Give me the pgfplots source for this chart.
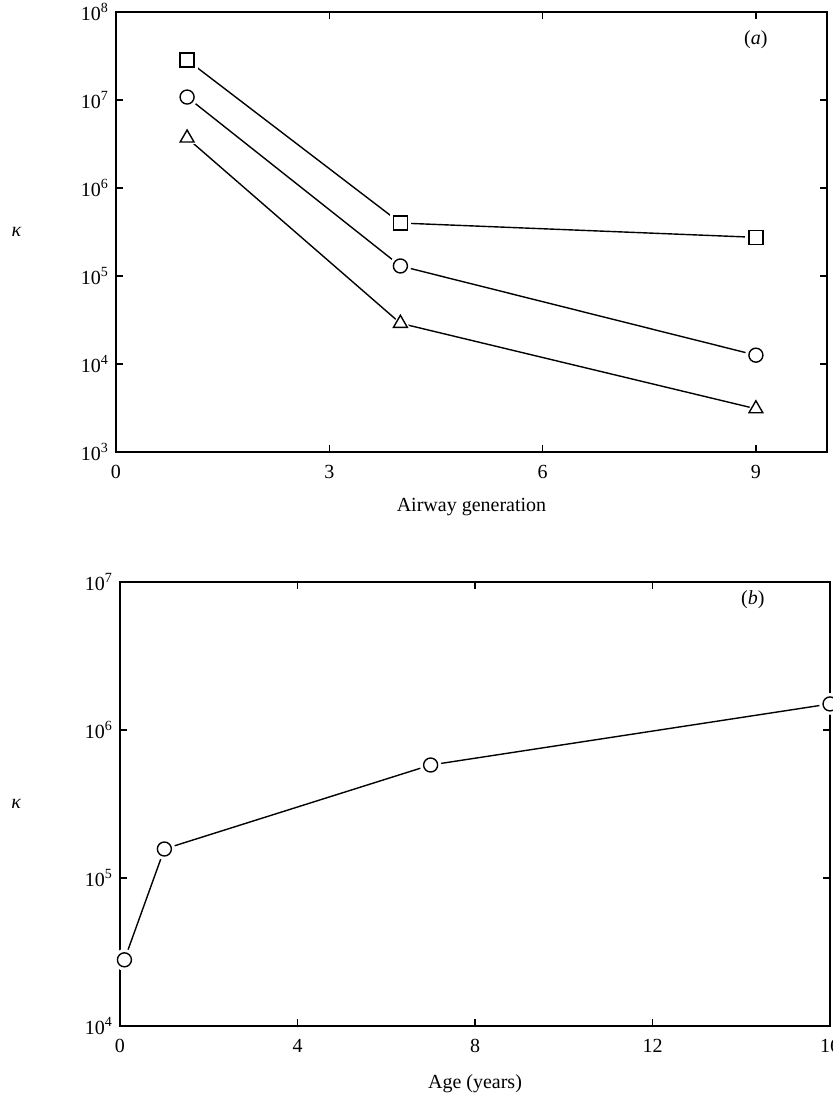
\documentclass[border=0pt]{standalone}
\usepackage{fontspec}
\setmainfont{Liberation Serif}
\usepackage{pgfplots}
\pgfplotsset{compat=1.18}

\pgfplotstableread{
x y
1 2.85e7
4 4.0e5
9 2.75e5
}\sqdata
\pgfplotstableread{
x y
1 1.08e7
4 1.3e5
9 1.26e4
}\circdata
\pgfplotstableread{
x y
1 3.7e6
4 2.9e4
9 3.1e3
}\tridata
\pgfplotstableread{
x y
0.1 2.8e4
1 1.57e5
7 5.8e5
16 1.5e6
}\agedata

\begin{document}
\begin{tikzpicture}
\begin{axis}[
  scale only axis,
  ymode=log,
  clip=false,
  axis line style={line width=0.9pt},
  tick style={line width=0.7pt, black},
  major tick length=3.5pt,
  tick align=inside,
  yminorticks=false,
  font=\fontsize{10}{12}\selectfont,
  /pgf/number format/assume math mode=true,
  xticklabel style={yshift=-3pt},
  at={(0pt,0pt)}, anchor=south west,
  width=355.5pt, height=220pt,
  xmin=0, xmax=10, xtick={0,3,6,9},
  ymin=1e3, ymax=1e8,
  ytick={1e3,1e4,1e5,1e6,1e7,1e8},
  yticklabels={10\textsuperscript{3},10\textsuperscript{4},10\textsuperscript{5},10\textsuperscript{6},10\textsuperscript{7},10\textsuperscript{8}},
  xlabel={Airway generation},
  xlabel style={at={(axis description cs:0.5,-0.125)}, anchor=center},
  ylabel={\textit{κ}},
  ylabel style={rotate=-90, at={(axis description cs:-0.14,0.5)}, anchor=center},
]
\addplot[black, line width=0.7pt, mark=none] table {\sqdata};
\addplot[black, line width=0.7pt, mark=none] table {\circdata};
\addplot[black, line width=0.7pt, mark=none] table {\tridata};
\addplot[only marks, white, mark=square*, mark size=5.2pt] table {\sqdata};
\addplot[only marks, white, mark=*, mark size=5.2pt] table {\circdata};
\addplot[only marks, white, mark=triangle*, mark size=5.6pt] table {\tridata};
\addplot[only marks, black, line width=0.7pt, mark=square, mark size=3.5pt] table {\sqdata};
\addplot[only marks, black, line width=0.7pt, mark=o, mark size=3.5pt] table {\circdata};
\addplot[only marks, black, line width=0.7pt, mark=triangle, mark size=4pt] table {\tridata};
\node at (axis cs:9,4.8e7) {(\textit{a})};
\end{axis}

\begin{axis}[
  scale only axis,
  ymode=log,
  clip=false,
  axis line style={line width=0.9pt},
  tick style={line width=0.7pt, black},
  major tick length=3.5pt,
  tick align=inside,
  yminorticks=false,
  font=\fontsize{10}{12}\selectfont,
  /pgf/number format/assume math mode=true,
  xticklabel style={yshift=-3pt},
  at={(2pt,-287pt)}, anchor=south west,
  width=355pt, height=222pt,
  xmin=0, xmax=16, xtick={0,4,8,12,16},
  ymin=1e4, ymax=1e7,
  ytick={1e4,1e5,1e6,1e7},
  yticklabels={10\textsuperscript{4},10\textsuperscript{5},10\textsuperscript{6},10\textsuperscript{7}},
  xlabel={Age (years)},
  xlabel style={at={(axis description cs:0.5,-0.13)}, anchor=center},
  ylabel={\textit{κ}},
  ylabel style={rotate=-90, at={(axis description cs:-0.146,0.5)}, anchor=center},
]
\addplot[black, line width=0.7pt, mark=none] table {\agedata};
\addplot[only marks, white, mark=*, mark size=5.2pt] table {\agedata};
\addplot[only marks, black, line width=0.7pt, mark=o, mark size=3.5pt] table {\agedata};
\node at (axis cs:14.26,7.55e6) {(\textit{b})};
\end{axis}

\pgfresetboundingbox
\path[use as bounding box] (-58pt,-323pt) rectangle (358pt,226pt);
\end{tikzpicture}
\end{document}
